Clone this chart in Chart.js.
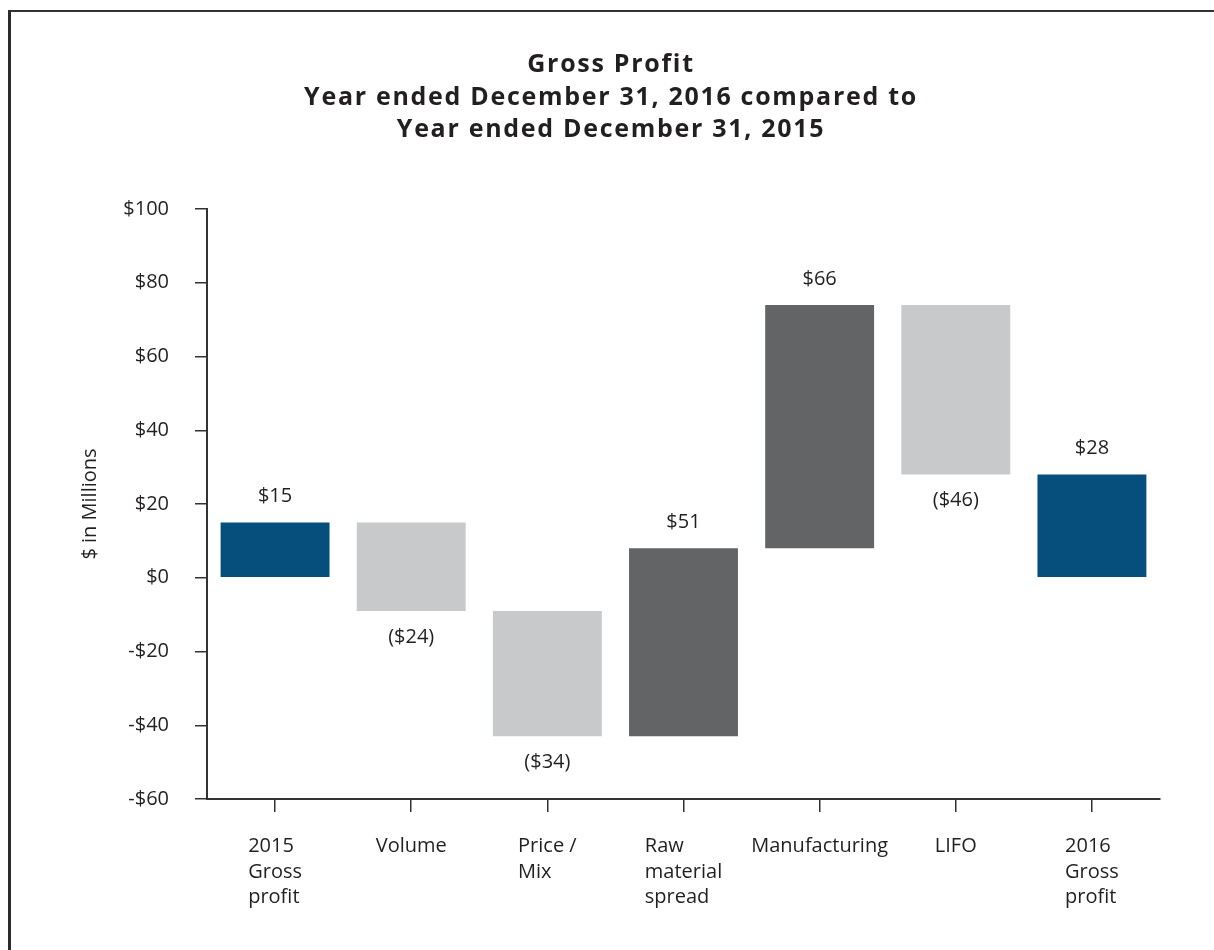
<!DOCTYPE html>
<html>
<head>
<meta charset="utf-8">
<script src="https://cdn.jsdelivr.net/npm/chart.js@4"></script>
<style>
  html, body { margin: 0; padding: 0; background: #fff; }
  #frame {
    position: absolute; left: 0; top: 0; width: 1214px; height: 950px;
  }
  #border {
    position: absolute; left: 8px; top: 10px; right: -5px; bottom: -5px;
    border-top: 2px solid #333; border-left: 3px solid #2b2b2b;
  }
  canvas { position: absolute; left: 0; top: 0; }
</style>
</head>
<body>
<div id="frame">
  <div id="border"></div>
  <canvas id="chart" width="1214" height="950"></canvas>
</div>
<script>
// Gross profit bridge 2015 -> 2016 ($ in millions)
const titleLines = ['Gross Profit', 'Year ended December 31, 2016 compared to', 'Year ended December 31, 2015'];
const categories = [
  ['2015', 'Gross', 'profit'],
  ['Volume'],
  ['Price /', 'Mix'],
  ['Raw', 'material', 'spread'],
  ['Manufacturing'],
  ['LIFO'],
  ['2016', 'Gross', 'profit']
];
const changes = [15, -24, -34, 51, 66, -46, 28];
const isTotal = [true, false, false, false, false, false, true];
const barColors = ['#064e7c', '#c8c9cb', '#c8c9cb', '#636466', '#636466', '#c8c9cb', '#064e7c'];
const yTicks = [100, 80, 60, 40, 20, 0, -20, -40, -60];

const TEXT = '#231f20';
const FONT = '"Open Sans", sans-serif';
const LABEL_SIZE = 20;

// floating ranges for the waterfall
const ranges = [];
let running = 0;
changes.forEach((v, i) => {
  if (isTotal[i]) {
    ranges.push([0, v]);
    running = v;
  } else {
    ranges.push([running, running + v]);
    running += v;
  }
});

function money(v) {
  return v < 0 ? '-$' + Math.abs(v) : '$' + v;
}

// title drawn by hand so it can be tracked out like the original
const wideTitle = {
  id: 'wideTitle',
  afterDraw(chart) {
    const ctx = chart.ctx;
    ctx.save();
    ctx.font = '700 25px ' + FONT;
    if ('letterSpacing' in ctx) ctx.letterSpacing = '1.7px';
    ctx.fillStyle = TEXT;
    ctx.textAlign = 'center';
    ctx.textBaseline = 'middle';
    titleLines.forEach((t, i) => {
      ctx.fillText(t, 611, 65 + i * 32.5);
    });
    ctx.restore();
  }
};

// value labels above / below the bars
const valueLabels = {
  id: 'valueLabels',
  afterDatasetsDraw(chart) {
    const ctx = chart.ctx;
    const meta = chart.getDatasetMeta(0);
    ctx.save();
    ctx.font = LABEL_SIZE + 'px ' + FONT;
    ctx.fillStyle = TEXT;
    ctx.textAlign = 'center';
    ctx.textBaseline = 'middle';
    meta.data.forEach((bar, i) => {
      const v = changes[i];
      const top = Math.min(bar.y, bar.base);
      const bottom = Math.max(bar.y, bar.base);
      if (v >= 0) {
        ctx.fillText('$' + v, bar.x, top - 26);
      } else {
        ctx.fillText('($' + Math.abs(v) + ')', bar.x, bottom + 26);
      }
    });
    ctx.restore();
  }
};

// category labels: block centred under the tick, lines left aligned
const categoryLabels = {
  id: 'categoryLabels',
  afterDraw(chart) {
    const ctx = chart.ctx;
    const xScale = chart.scales.x;
    ctx.save();
    ctx.font = LABEL_SIZE + 'px ' + FONT;
    ctx.fillStyle = TEXT;
    ctx.textAlign = 'left';
    ctx.textBaseline = 'middle';
    categories.forEach((lines, i) => {
      const cx = xScale.getPixelForValue(i);
      const w = Math.max(...lines.map(l => ctx.measureText(l).width));
      lines.forEach((l, j) => {
        ctx.fillText(l, cx - w / 2, chart.chartArea.bottom + 47 + j * 25.8);
      });
    });
    ctx.restore();
  }
};

new Chart(document.getElementById('chart'), {
  type: 'bar',
  data: {
    labels: categories.map(c => c.join(' ')),
    datasets: [{
      data: ranges,
      backgroundColor: barColors,
      borderWidth: 0,
      barPercentage: 0.8,
      categoryPercentage: 1.0
    }]
  },
  options: {
    responsive: false,
    animation: false,
    layout: { padding: { left: 60, right: 54, top: 209, bottom: 0 } },
    plugins: {
      legend: { display: false },
      tooltip: { enabled: false },
      title: { display: false }
    },
    scales: {
      x: {
        grid: { display: true, offset: false, drawOnChartArea: false, drawTicks: true, tickLength: 13, color: '#333', lineWidth: 1.5 },
        border: { display: true, color: '#333', width: 2 },
        ticks: { display: false },
        afterFit(scale) { scale.height = 151; }
      },
      y: {
        min: -60,
        max: 100,
        afterBuildTicks(scale) { scale.ticks = yTicks.map(v => ({ value: v })); },
        grid: { display: true, drawOnChartArea: false, drawTicks: true, tickLength: 12, color: '#333', lineWidth: 1.5 },
        border: { display: true, color: '#333', width: 2 },
        ticks: {
          padding: 26,
          color: TEXT,
          font: { family: FONT, size: LABEL_SIZE },
          callback: v => money(v)
        },
        title: {
          display: true,
          text: '$ in Millions',
          color: TEXT,
          font: { family: FONT, size: LABEL_SIZE },
          padding: { top: 18, bottom: 0 }
        },
        afterFit(scale) { scale.width = 147; }
      }
    }
  },
  plugins: [valueLabels, categoryLabels, wideTitle]
});
</script>
</body>
</html>
